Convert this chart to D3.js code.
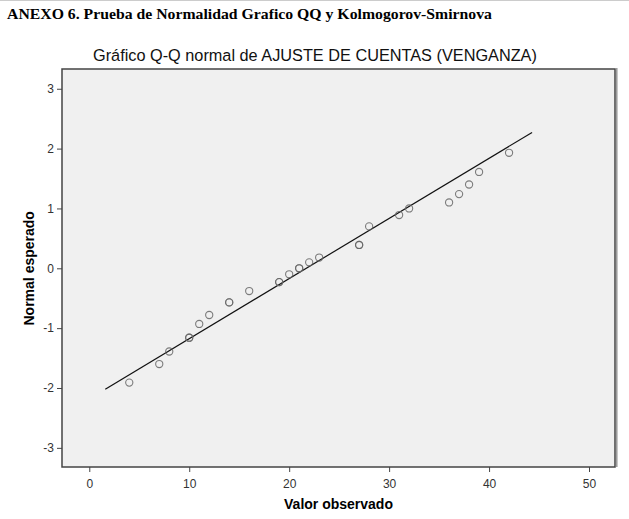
<!DOCTYPE html>
<html><head><meta charset="utf-8">
<script src="https://cdn.jsdelivr.net/npm/d3@7"></script>
<style>body{margin:0;background:#fff}svg{display:block}</style>
</head><body>
<script>
const observed = [4,7,8,10,10,11,12,14,14,16,19,19,20,21,21,22,23,27,27,28,31,32,36,37,38,39,42];
const expected = [-1.91,-1.60,-1.39,-1.16,-1.16,-0.93,-0.78,-0.57,-0.57,-0.38,-0.23,-0.23,-0.10,0.00,0.00,0.10,0.18,0.39,0.39,0.70,0.89,1.00,1.10,1.24,1.40,1.61,1.93];
const lineX = [1.6, 44.3];
const lineY = [-2.02, 2.27];
const xTicks = [0,10,20,30,40,50];
const yTicks = [-3,-2,-1,0,1,2,3];

const W = 629, H = 519;
const svg = d3.select("body").append("svg").attr("width", W).attr("height", H);
const L = 62, R = 615, T = 69, B = 467;
const x = d3.scaleLinear().domain([-2.73, 52.6]).range([L, R]);
const y = d3.scaleLinear().domain([-3.32, 3.33]).range([B, T]);

svg.append("line").attr("x1",0).attr("x2",W).attr("y1",0.5).attr("y2",0.5).attr("stroke","#ccc");

svg.append("text").attr("x", 7).attr("y", 18.5)
  .attr("font-family","Liberation Serif, Times New Roman, serif").attr("font-weight","bold")
  .attr("font-size", 15).attr("fill","#000").attr("textLength", 485).attr("lengthAdjust","spacingAndGlyphs")
  .text("ANEXO 6. Prueba de Normalidad Grafico QQ y Kolmogorov-Smirnova");

svg.append("text").attr("x", 93).attr("y", 61)
  .attr("font-family","Liberation Sans, Arial, sans-serif").attr("font-size", 16.3).attr("fill","#111")
  .text("Gráfico Q-Q normal de AJUSTE DE CUENTAS (VENGANZA)");

svg.append("rect").attr("x", L).attr("y", T).attr("width", R-L).attr("height", B-T)
  .attr("fill","#f0f0f0").attr("stroke","#444").attr("stroke-width",1.5);
svg.append("line").attr("x1",R+1.8).attr("x2",R+1.8).attr("y1",T-1).attr("y2",B)
  .attr("stroke","#999").attr("stroke-width",1.5);

const xa = svg.append("g").attr("transform",`translate(0,${B})`)
  .call(d3.axisBottom(x).tickValues(xTicks).tickSize(5).tickFormat(d => String(d)));
const ya = svg.append("g").attr("transform",`translate(${L},0)`)
  .call(d3.axisLeft(y).tickValues(yTicks).tickSize(5).tickFormat(d => String(d)));
[xa, ya].forEach(g => {
  g.select(".domain").remove();
  g.selectAll("line").attr("stroke","#444");
  g.selectAll("text").attr("font-family","Liberation Sans, Arial, sans-serif").attr("font-size",12).attr("fill","#333");
});
xa.selectAll("text").attr("dy","1.1em");

svg.append("text").attr("x",(L+R)/2).attr("y",509).attr("text-anchor","middle")
  .attr("font-family","Liberation Sans, Arial, sans-serif").attr("font-weight","bold").attr("font-size",14)
  .text("Valor observado");
svg.append("text").attr("transform",`translate(34,${y(0)}) rotate(-90)`).attr("text-anchor","middle")
  .attr("font-family","Liberation Sans, Arial, sans-serif").attr("font-weight","bold").attr("font-size",14)
  .text("Normal esperado");

svg.append("line").attr("x1",x(lineX[0])).attr("y1",y(lineY[0])).attr("x2",x(lineX[1])).attr("y2",y(lineY[1]))
  .attr("stroke","#111").attr("stroke-width",1.2);

svg.append("g").selectAll("circle").data(observed.map((v,i)=>[v,expected[i]])).join("circle")
  .attr("cx", d=>x(d[0])).attr("cy", d=>y(d[1])).attr("r",3.6)
  .attr("fill","none").attr("stroke","#666").attr("stroke-width",1.1).attr("stroke-opacity",0.85);
</script>
</body></html>
